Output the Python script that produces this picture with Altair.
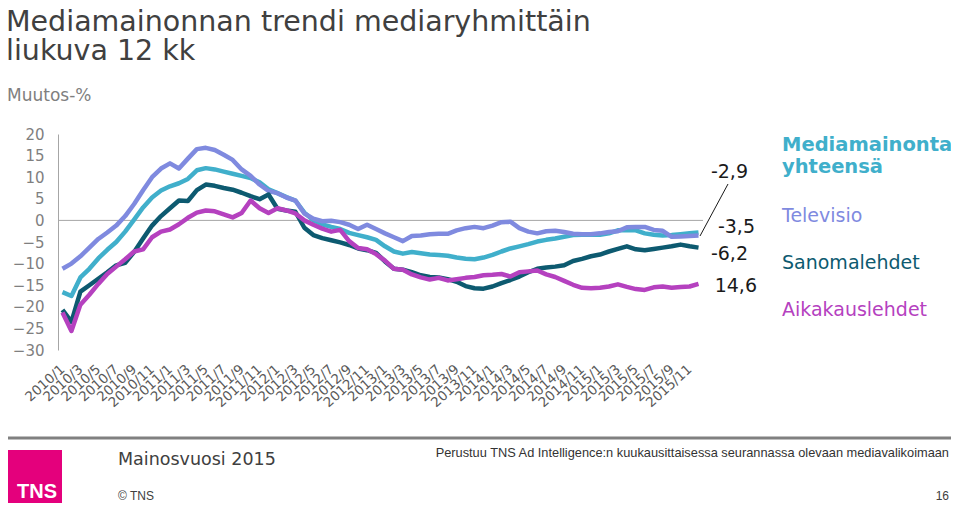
import altair as alt
import pandas as pd

# ---------------- data ----------------
months = [f"{y}/{m}" for y in range(2010, 2016) for m in range(1, 13)]
tick_labels = months[::2]

series_names = ["Mediamainonta yhteensä", "Televisio", "Sanomalehdet", "Aikakauslehdet"]
series_colors = ["#40afcb", "#7f8adf", "#0d5a70", "#b541bf"]

mediamainonta = [-16.6, -17.5, -13.2, -11.2, -8.8, -6.8, -5.0, -2.6, 0.2, 3.0,
                 5.3, 6.9, 7.9, 8.6, 9.6, 11.6, 12.1, 11.8, 11.3, 10.8,
                 10.3, 9.8, 8.8, 7.2, 6.3, 5.4, 4.6, 1.8, 0.0, -0.9,
                 -1.5, -2.0, -2.9, -3.4, -3.9, -4.5, -6.0, -7.2, -7.7, -7.3,
                 -7.6, -7.9, -8.0, -8.2, -8.6, -8.9, -9.0, -8.6, -8.0, -7.2,
                 -6.5, -6.0, -5.5, -4.9, -4.5, -4.2, -3.8, -3.4, -3.3, -3.3,
                 -3.3, -3.0, -2.3, -2.2, -2.3, -3.0, -3.3, -3.5, -3.4, -3.2,
                 -3.0, -2.8]
televisio = [-11.2, -10.0, -8.3, -6.3, -4.3, -2.8, -1.2, 1.0, 3.8, 7.0,
             10.0, 12.0, 13.2, 12.0, 14.3, 16.5, 16.8, 16.3, 15.2, 14.0,
             11.8, 10.3, 8.3, 6.8, 6.3, 5.3, 4.6, 1.6, 0.4, -0.2,
             -0.1, -0.4, -1.0, -2.0, -1.0, -2.0, -3.0, -3.9, -4.8, -3.6,
             -3.5, -3.2, -3.1, -3.1, -2.3, -1.8, -1.5, -1.8, -1.2, -0.4,
             -0.3, -1.8, -2.6, -3.0, -2.5, -2.4, -2.7, -3.1, -3.2, -3.2,
             -3.0, -2.7, -2.5, -1.6, -1.5, -1.5, -2.2, -2.4, -3.8, -3.7,
             -3.6, -3.5]
sanomalehdet = [-20.7, -23.5, -16.5, -15.0, -13.5, -12.0, -10.4, -9.8, -7.3, -4.2,
                -1.2, 1.0, 2.8, 4.6, 4.5, 7.0, 8.3, 8.0, 7.5, 7.1,
                6.4, 5.6, 4.9, 6.0, 2.7, 2.3, 2.0, -1.7, -3.4, -4.1,
                -4.6, -5.1, -5.7, -6.5, -6.9, -7.5, -9.5, -11.2, -11.4, -12.0,
                -12.7, -13.1, -13.2, -13.6, -14.2, -15.2, -15.7, -15.8, -15.3, -14.5,
                -13.8, -13.0, -12.0, -11.2, -10.9, -10.7, -10.4, -9.4, -8.9, -8.3,
                -7.9, -7.2, -6.6, -6.0, -6.7, -6.9, -6.6, -6.3, -6.0, -5.6,
                -6.0, -6.3]
aikakauslehdet = [-21.3, -25.6, -19.5, -17.2, -14.7, -12.4, -10.7, -9.0, -7.2, -6.7,
                  -3.9, -2.6, -2.1, -0.9, 0.6, 1.8, 2.3, 2.1, 1.4, 0.7,
                  1.7, 4.6, 2.8, 1.7, 2.8, 2.3, 1.6, 0.0, -1.0, -1.9,
                  -2.6, -2.2, -4.8, -6.4, -6.7, -7.8, -9.3, -11.2, -11.4, -12.5,
                  -13.2, -13.7, -13.3, -13.9, -13.6, -13.3, -13.1, -12.7, -12.6, -12.4,
                  -13.0, -12.0, -11.8, -11.6, -12.5, -13.1, -14.0, -14.9, -15.6, -15.7,
                  -15.6, -15.3, -14.8, -15.4, -15.9, -16.1, -15.5, -15.3, -15.6, -15.4,
                  -15.3, -14.7]

end_labels = ["-2,9", "-3,5", "-6,2", "14,6"]
y_ticks = [-30, -25, -20, -15, -10, -5, 0, 5, 10, 15, 20]

rows = []
for name, vals in zip(series_names, [mediamainonta, televisio, sanomalehdet, aikakauslehdet]):
    for m, v in zip(months, vals):
        rows.append({"month": m, "value": v, "series": name})
df = pd.DataFrame(rows)

# ---------------- layout ----------------
W, H = 645, 216
PAD = {"left": 50, "top": 126, "right": 248, "bottom": 153}
OX, OY = 8 + PAD["left"], 8 + PAD["top"]   # page position of plot origin
FONT = "DejaVu Sans"

x_enc = alt.X("month:O", sort=months,
              scale=alt.Scale(type="point", padding=0.5),
              axis=alt.Axis(values=tick_labels, labelAngle=-42, labelAlign="right",
                            labelBaseline="middle", labelFontSize=13.5, labelColor="#595959",
                            labelFont=FONT, domain=False, ticks=False, labelPadding=17,
                            labelOverlap=False, labelBound=False, title=None))
y_scale = alt.Scale(domain=[-30, 20], nice=False, zero=False)
y_axis = alt.Axis(values=y_ticks, labelFontSize=15, labelColor="#7f7f7f",
                  labelFont=FONT, ticks=False, tickSize=0, grid=False,
                  domainColor="#a6a6a6", domainWidth=1, labelPadding=14,
                  title=None)
y_enc = alt.Y("value:Q", scale=y_scale, axis=y_axis)

lines = alt.Chart(df).mark_line(strokeWidth=4.5, strokeJoin="round").encode(
    x=x_enc, y=y_enc,
    color=alt.Color("series:N", scale=alt.Scale(domain=series_names, range=series_colors),
                    legend=None))

zero = alt.Chart(pd.DataFrame({"value": [0]})).mark_rule(
    color="#a6a6a6", strokeWidth=1).encode(y=y_enc)

dummy = pd.DataFrame({"a": [0]})


def txt(s, px, py, size, color, weight="normal", align="left", font=FONT):
    return alt.Chart(dummy).mark_text(
        text=s, align=align, baseline="alphabetic", fontSize=size, color=color,
        fontWeight=weight, font=font).encode(x=alt.value(px - OX), y=alt.value(py - OY))


layers = [zero, lines]

# titles
layers.append(txt("Mediamainonnan trendi mediaryhmittäin", 6, 31, 28.5, "#404040"))
layers.append(txt("liukuva 12 kk", 6, 60, 28.5, "#404040"))
layers.append(txt("Muutos-%", 7, 101, 17, "#7f7f7f"))

# legend-like series names
layers.append(txt("Mediamainonta", 782, 151, 19.5, series_colors[0], weight="bold"))
layers.append(txt("yhteensä", 782, 173, 19.5, series_colors[0], weight="bold"))
layers.append(txt(series_names[1], 782, 222, 19, series_colors[1]))
layers.append(txt(series_names[2], 782, 269, 19, series_colors[2]))
layers.append(txt(series_names[3], 782, 316, 19, series_colors[3]))

# end value labels
for s, (rx, by) in zip(end_labels, [(748, 178), (755, 233), (748, 260), (757, 292)]):
    layers.append(txt(s, rx, by, 19, "#1a1a1a", align="right"))

# leader line
layers.append(alt.Chart(dummy).mark_rule(color="#1a1a1a", strokeWidth=1).encode(
    x=alt.value(700 - OX), y=alt.value(236 - OY), x2=alt.value(728 - OX), y2=alt.value(184 - OY)))

# footer
layers.append(alt.Chart(dummy).mark_rule(color="#808080", strokeWidth=3).encode(
    x=alt.value(2 - OX), x2=alt.value(951 - OX), y=alt.value(438 - OY)))
layers.append(alt.Chart(dummy).mark_rect(color="#e4007c").encode(
    x=alt.value(5 - OX), x2=alt.value(62 - OX), y=alt.value(450 - OY), y2=alt.value(503 - OY)))
layers.append(txt("TNS", 37, 498, 20, "white", weight="bold", align="center",
                  font="Liberation Sans"))
layers.append(txt("Mainosvuosi 2015", 118, 465, 17.5, "#404040"))
layers.append(txt("Perustuu TNS Ad Intelligence:n kuukausittaisessa seurannassa olevaan mediavalikoimaan",
                  949, 457, 12.8, "#333333", align="right", font="Liberation Sans"))
layers.append(txt("© TNS", 118, 500, 12, "#404040", font="Liberation Sans"))
layers.append(txt("16", 949, 500, 12, "#404040", align="right", font="Liberation Sans"))

chart = alt.layer(*layers).properties(
    width=W, height=H,
    autosize=alt.AutoSizeParams(type="none"),
    padding=PAD,
    background="white",
).configure_view(stroke=None)

chart.save("out.html", embed_options={"renderer": "svg", "actions": False})
